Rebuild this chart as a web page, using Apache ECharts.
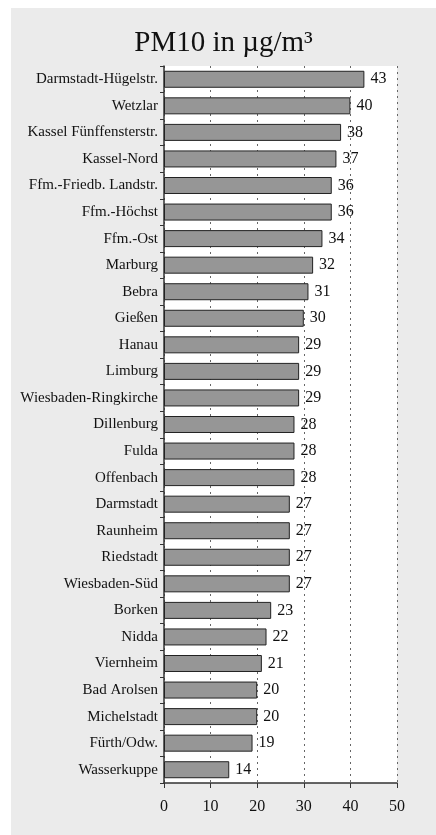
<!DOCTYPE html>
<html><head><meta charset="utf-8">
<script src="https://cdn.jsdelivr.net/npm/echarts@6/dist/echarts.min.js"></script>
<style>html,body{margin:0;padding:0;background:#fff}#c{position:absolute;left:11px;top:8px;width:425px;height:827px;background:#ebebeb}</style>
</head><body><div id="c"></div>
<script>
const stations = ["Darmstadt-Hügelstr.","Wetzlar","Kassel Fünffensterstr.","Kassel-Nord","Ffm.-Friedb. Landstr.","Ffm.-Höchst","Ffm.-Ost","Marburg","Bebra","Gießen","Hanau","Limburg","Wiesbaden-Ringkirche","Dillenburg","Fulda","Offenbach","Darmstadt","Raunheim","Riedstadt","Wiesbaden-Süd","Borken","Nidda","Viernheim","Bad Arolsen","Michelstadt","Fürth/Odw.","Wasserkuppe"];
const pm10 = [43,40,38,37,36,36,34,32,31,30,29,29,29,28,28,28,27,27,27,27,23,22,21,20,20,19,14];
const xTicks = [0,10,20,30,40,50];
const FONT = "Liberation Serif";
const chart = echarts.init(document.getElementById('c'));
chart.setOption({
  animation:false,
  backgroundColor:'#ebebeb',
  title:{text:'PM10 in µg/m³',left:'center',top:16,textStyle:{fontFamily:FONT,fontSize:29,fontWeight:'normal',color:'#111'}},
  grid:{left:153,right:39,top:58,bottom:52,backgroundColor:'#fff',show:true,borderWidth:0},
  xAxis:{type:'value',min:xTicks[0],max:xTicks[xTicks.length-1],interval:10,
    axisLine:{show:true,lineStyle:{color:'#333',width:1.5}},
    axisTick:{show:true,length:5,lineStyle:{color:'#333'}},
    axisLabel:{fontFamily:FONT,fontSize:16,color:'#111',margin:16},
    splitLine:{show:true,lineStyle:{type:[2,4],color:'#666',width:1}}},
  yAxis:{type:'category',data:stations,inverse:true,
    axisLine:{show:true,lineStyle:{color:'#333',width:1.5}},
    axisTick:{show:true,length:4,lineStyle:{color:'#333'}},
    axisLabel:{fontFamily:FONT,fontSize:15,color:'#111',margin:6}},
  series:[{type:'bar',data:pm10,barCategoryGap:'36%',
    itemStyle:{color:'#969696',borderColor:'#222',borderWidth:1},
    label:{show:true,position:'right',distance:6,fontFamily:FONT,fontSize:16,color:'#111'}}]
});
</script></body></html>
